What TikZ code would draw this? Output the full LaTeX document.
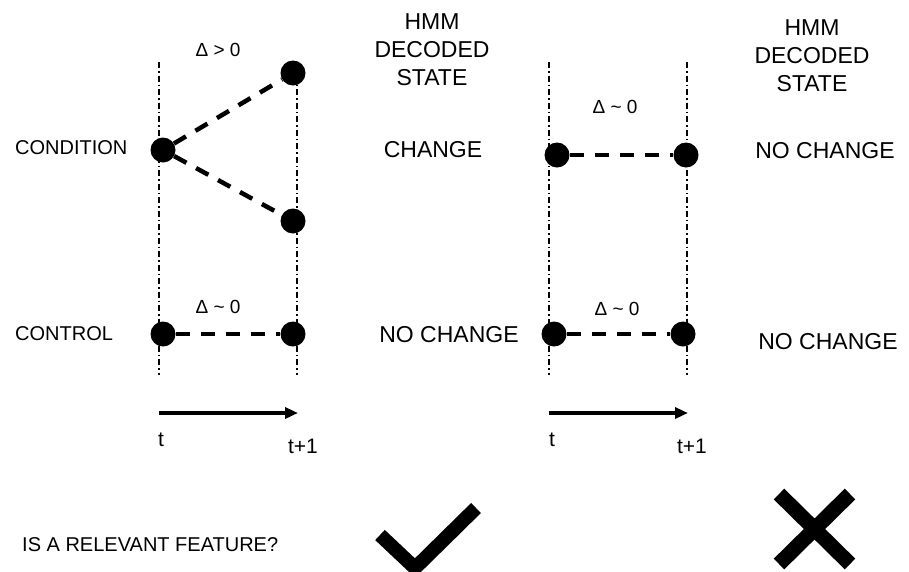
\documentclass[tikz,border=0pt]{standalone}
\usepackage{fontspec}
\setmainfont{Liberation Sans}
\usetikzlibrary{arrows.meta}

\begin{document}
\begin{tikzpicture}[
    x=1pt, y=-1pt,
    every node/.style={inner sep=0pt},
    state/.style={circle, fill=black, minimum size=25pt},
    timeline/.style={line width=1.4pt, dash pattern=on 6pt off 3pt on 1.5pt off 3pt},
    jump/.style={line width=4.5pt, dash pattern=on 14pt off 11pt},
    clock/.style={line width=4pt, -{Triangle[length=13pt,width=11pt]}},
    big/.style={font=\fontsize{23}{28}\selectfont, align=center},
    mid/.style={font=\fontsize{20}{24}\selectfont},
    small/.style={font=\fontsize{19}{22}\selectfont},
    tick/.style={font=\fontsize{21}{24}\selectfont}
]
\useasboundingbox (0,0) rectangle (909,571);

% time lines
\coordinate (lt) at (159,62);   \coordinate (lb) at (159,375);
\coordinate (rt) at (297,62);   \coordinate (rb) at (297,375);
\coordinate (lt2) at (549,62);  \coordinate (lb2) at (549,375);
\coordinate (rt2) at (687,62);  \coordinate (rb2) at (687,375);
\draw[timeline] (lt) -- (lb);
\draw[timeline] (rt) -- (rb);
\draw[timeline] (lt2) -- (lb2);
\draw[timeline] (rt2) -- (rb2);

% left panel
\node[state] (cond) at (163,150) {};
\node[state] (up) at (293,73) {};
\node[state] (down) at (293,221) {};
\node[state] (ctrl) at (163,334) {};
\node[state] (ctrlnext) at (293,334) {};
\draw[jump] (cond) -- (up);
\draw[jump] (cond) -- (down);
\draw[jump] (ctrl) -- (ctrlnext);
\node[small] (gap) at (218,50) {Δ > 0};
\node[small] (gapctrl) at (218,307) {Δ \textasciitilde{} 0};

% right panel
\node[state] (cond2) at (557,155) {};
\node[state] (condnext2) at (686,155) {};
\node[state] (ctrl2) at (554,334) {};
\node[state] (ctrlnext2) at (683,334) {};
\draw[jump] (cond2) -- (condnext2);
\draw[jump] (ctrl2) -- (ctrlnext2);
\node[small] (gap2) at (615,107) {Δ \textasciitilde{} 0};
\node[small] (gapctrl2) at (617,309) {Δ \textasciitilde{} 0};

% row labels
\node[mid, anchor=west] (condlbl) at (15,148) {CONDITION};
\node[mid, anchor=west] (ctrllbl) at (15,334) {CONTROL};
\node[mid, anchor=west] (question) at (22,545) {IS A RELEVANT FEATURE?};

% decoded states
\node[big] (hmm) at (432,50) {HMM\\DECODED\\STATE};
\node[big] (change) at (433,150) {CHANGE};
\node[big] (nochange) at (449,335) {NO CHANGE};
\node[big] (hmm2) at (812,56) {HMM\\DECODED\\STATE};
\node[big] (nochange2) at (825,151) {NO CHANGE};
\node[big] (nochange3) at (828,342) {NO CHANGE};

% time arrows
\coordinate (from) at (159,413);  \coordinate (to) at (298,413);
\coordinate (from2) at (549,413); \coordinate (to2) at (688,413);
\draw[clock] (from) -- (to);
\draw[clock] (from2) -- (to2);
\node[tick] (t) at (161,440) {t};
\node[tick] (tnext) at (303,446) {t+1};
\node[tick] (t2) at (552,440) {t};
\node[tick] (tnext2) at (692,446) {t+1};

% verdicts
\draw[line width=14pt] (380,535) -- (415,568) -- (476,508);
\draw[line width=15pt] (779,494) -- (850,564) (850,494) -- (779,564);
\end{tikzpicture}
\end{document}
